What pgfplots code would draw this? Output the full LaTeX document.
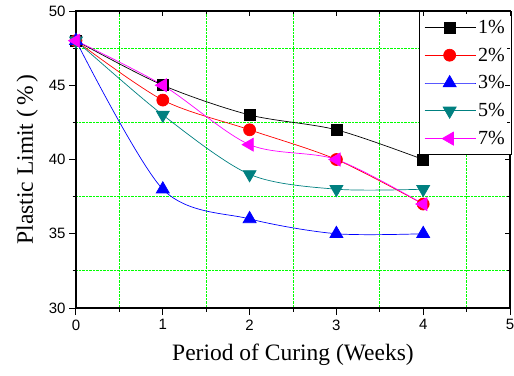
\documentclass[border=0pt]{standalone}
\usepackage{pgfplots}
\pgfplotsset{compat=1.18}
\usepackage{fontspec}
\setmainfont{Liberation Serif}
\newfontfamily\arial{Liberation Sans}
\definecolor{cteal}{RGB}{0,128,128}
\definecolor{cgrid}{RGB}{0,255,0}
\definecolor{cmag}{RGB}{255,0,255}
\begin{document}
\begin{tikzpicture}
\path[use as bounding box] (-76pt,-67pt) rectangle (438pt,308pt);
\begin{axis}[
  at={(0pt,0pt)}, anchor=south west,
  scale only axis, width=434pt, height=297pt,
  xmin=0, xmax=5, ymin=30, ymax=50,
  xtick={0,1,2,3,4,5}, ytick={30,35,40,45,50},
  minor x tick num=1, minor y tick num=1,
  grid=minor,
  minor grid style={cgrid, densely dotted, line width=0.8pt},
  axis line style={line width=1.2pt},
  tick align=outside, xtick pos=bottom, ytick pos=left,
  major tick length=7pt, minor tick length=3.5pt,
  tick style={black, line width=1pt},
  /pgf/number format/assume math mode=true,
  tick label style={font=\arial\fontsize{15}{15}\selectfont},
  xticklabel style={yshift=-1pt},
  xlabel={Period of Curing (Weeks)},
  ylabel={Plastic Limit (\,\%\,)},
  label style={font=\fontsize{23.5}{23.5}\selectfont},
  xlabel style={yshift=-7pt},
  ylabel style={yshift=4pt},
  legend style={at={(1.005,1)}, anchor=north east, draw=black, line width=1pt,
    font=\fontsize{20}{20}\selectfont, row sep=9pt, inner xsep=5pt, inner ysep=6.5pt,
    cells={anchor=west}},
  legend image code/.code={
    \draw[mark repeat=2,mark phase=2,#1] plot coordinates {(0pt,0pt) (25pt,0pt) (51pt,0pt)};
  },
  every axis plot/.append style={line width=0.7pt, mark size=6pt, smooth},
]
\addplot[black, mark=square*, mark options={solid, mark size=5.5pt}] coordinates {(0,48) (1,45) (2,43) (3,42) (4,40)};
\addlegendentry{1\%}
\addplot[red, mark=*, mark options={solid, fill=red, mark size=6pt}] coordinates {(0,48) (1,44) (2,42) (3,40) (4,37)};
\addlegendentry{2\%}
\addplot[blue, mark=triangle*, mark options={solid, fill=blue, mark size=7.5pt}] coordinates {(0,48) (1,38) (2,36) (3,35) (4,35)};
\addlegendentry{3\%}
\addplot[cteal, mark=triangle*, mark options={solid, fill=cteal, rotate=180, mark size=7.5pt}] coordinates {(0,48) (1,43) (2,39) (3,38) (4,38)};
\addlegendentry{5\%}
\addplot[cmag, mark=triangle*, mark options={solid, fill=cmag, rotate=90, mark size=7.5pt}] coordinates {(0,48) (1,45) (2,41) (3,40) (4,37)};
\addlegendentry{7\%}
\end{axis}
\begin{axis}[
  at={(0pt,0pt)}, anchor=south west,
  scale only axis, width=434pt, height=297pt,
  xmin=0, xmax=5, ymin=30, ymax=50,
  xtick={0,1,2,3,4,5}, ytick={30,35,40,45,50},
  minor x tick num=1, minor y tick num=1,
  axis line style={draw=none},
  tick align=inside, xtick pos=top, ytick pos=right,
  major tick length=5pt, minor tick length=3pt,
  tick style={black, line width=1pt},
  xticklabels={}, yticklabels={},
]
\end{axis}
\end{tikzpicture}
\end{document}
